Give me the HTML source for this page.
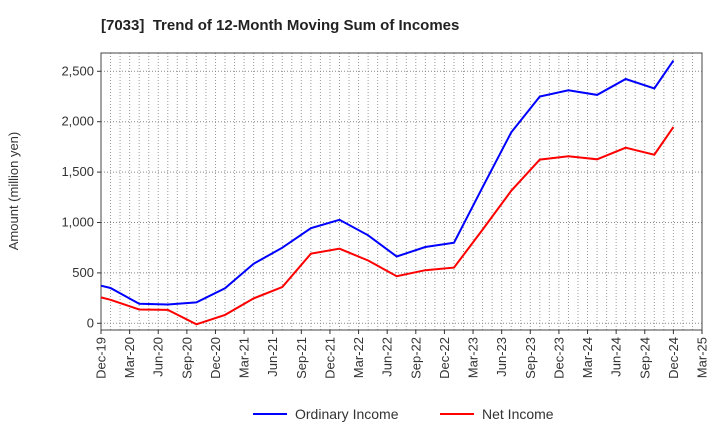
<!DOCTYPE html>
<html><head><meta charset="utf-8"><style>
body{margin:0;background:#fff;font-family:"Liberation Sans",sans-serif;}
</style></head><body>
<svg id="chart" width="720" height="440" xmlns="http://www.w3.org/2000/svg">
<text x="101" y="30" font-size="15" font-weight="bold" fill="#222" xml:space="preserve">[7033]  Trend of 12-Month Moving Sum of Incomes</text>
<text transform="translate(18,191) rotate(-90)" text-anchor="middle" font-size="13" fill="#333">Amount (million yen)</text>
<g id="grid"></g><g id="axes"></g><g id="series"></g>
<g>
<g><line x1="253" y1="414" x2="287" y2="414" stroke="#0000ff" stroke-width="2"/><text x="295" y="419" font-size="14" fill="#333">Ordinary Income</text></g>
<g><line x1="440" y1="414" x2="474" y2="414" stroke="#ff0000" stroke-width="2"/><text x="482" y="419" font-size="14" fill="#333">Net Income</text></g>
</g>
</svg>
<script>
const xLabels=["Dec-19","Mar-20","Jun-20","Sep-20","Dec-20","Mar-21","Jun-21","Sep-21","Dec-21","Mar-22","Jun-22","Sep-22","Dec-22","Mar-23","Jun-23","Sep-23","Dec-23","Mar-24","Jun-24","Sep-24","Dec-24","Mar-25"];
const yTicks=[0,500,1000,1500,2000,2500];
const yTickLabels=["0","500","1,000","1,500","2,000","2,500"];
const months=[0,1,4,7,10,13,16,19,22,25,28,31,34,37,40,43,46,49,52,55,58,60];
const ordinary=[373,350,193,187,207,347,590,750,943,1027,873,663,757,800,1350,1894,2250,2312,2266,2424,2329,2606];
const netIncome=[257,233,137,133,-10,83,247,360,690,740,623,467,527,553,930,1314,1624,1657,1627,1742,1673,1947];
const NS="http://www.w3.org/2000/svg";
const L=101,R=702,T=53,B=330;
const xm=m=>L+(R-L)*m/63;
const yv=v=>323.3-v*0.1008;
function mk(tag,attrs,parent){const e=document.createElementNS(NS,tag);for(const k in attrs)e.setAttribute(k,attrs[k]);parent.appendChild(e);return e;}
const grid=document.getElementById('grid'),axes=document.getElementById('axes'),series=document.getElementById('series');
for(let m=1;m<63;m++){const g=mk('line',{x1:xm(m),x2:xm(m),y1:T,y2:B,stroke:'#999','stroke-width':1,'stroke-dasharray':'1,2'},grid);

}
yTicks.forEach((v,i)=>{const g=mk('line',{x1:L,x2:R,y1:yv(v),y2:yv(v),stroke:'#888','stroke-width':1,'stroke-dasharray':'1,2'},grid);


mk('line',{x1:L-4,x2:L,y1:yv(v),y2:yv(v),stroke:'#333'},axes);
const t=mk('text',{x:L-7,y:yv(v)+4,'text-anchor':'end','font-size':13,fill:'#333'},axes);t.textContent=yTickLabels[i];

});
const fr=mk('rect',{x:L,y:T,width:R-L,height:B-T,fill:'none',stroke:'#444','stroke-width':1},axes);


xLabels.forEach((s,i)=>{const x=xm(i*3);mk('line',{x1:x,x2:x,y1:B,y2:B+4,stroke:'#333'},axes);
const t=mk('text',{transform:`translate(${x+4.5},${B+7}) rotate(-90)`,'text-anchor':'end','font-size':13,fill:'#333'},axes);t.textContent=s;

});
function line(vals,color,name){const d=vals.map((v,i)=>(i?'L':'M')+xm(months[i]).toFixed(1)+','+yv(v).toFixed(1)).join('');
const p=mk('path',{d:d,fill:'none',stroke:color,'stroke-width':2},series);

}
line(ordinary,'#0000ff','ordinary-income-line');
line(netIncome,'#ff0000','net-income-line');
</script>
</body></html>
